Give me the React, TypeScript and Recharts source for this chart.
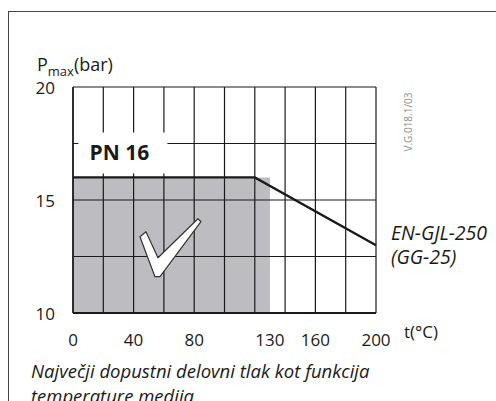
import {
  Area,
  ComposedChart,
  Line,
  ReferenceDot,
  ReferenceLine,
  XAxis,
  YAxis,
} from "recharts";

// temperature (°C) on x, max pressure (bar) on y
const tempGrid = [0, 20, 40, 60, 80, 100, 120, 140, 160, 180, 200];
const tempLabels = [0, 40, 80, 130, 160, 200];
const pressureGrid = [10, 12.5, 15, 17.5, 20];
const pressureLabels = [10, 15, 20];

// EN-GJL-250 (GG-25) limit curve
const limitLine = [
  { t: 0, p: 16 },
  { t: 120, p: 16 },
  { t: 200, p: 13 },
];
// shaded PN 16 working range
const safeZone = [
  { t: 0, p: 16 },
  { t: 130, p: 16 },
];

const FONT = "'Open Sans', 'DejaVu Sans', sans-serif";
const INK = "#1a1a1a";

function XTick({ x, y, payload }: any) {
  return (
    <text x={x} y={y + 25} textAnchor="middle" fontSize={17} fill={INK} fontFamily={FONT}>
      {payload.value}
    </text>
  );
}

function YTick({ x, y, payload }: any) {
  if (!pressureLabels.includes(payload.value)) return null;
  return (
    <text x={x - 10} y={y + 7} textAnchor="end" fontSize={17} fill={INK} fontFamily={FONT}>
      {payload.value}
    </text>
  );
}

// white tick mark drawn around its anchor point
function CheckMark({ cx, cy }: any) {
  const d = `M${cx - 30},${cy - 13} L${cx - 24},${cy - 18} L${cx - 12},${cy + 8} L${cx + 28},${cy - 31} L${cx + 31},${cy - 28} L${cx - 10},${cy + 27} L${cx - 15},${cy + 27} Z`;
  return <path d={d} fill="#fff" stroke="#333" strokeWidth={1.2} strokeLinejoin="round" />;
}

// white label plate that hides the grid behind "PN 16"
function PnBadge({ cx, cy }: any) {
  return (
    <g>
      <rect x={cx - 44} y={cy - 20} width={89} height={41} fill="#fff" />
      <text
        x={cx - 3}
        y={cy + 7}
        textAnchor="middle"
        fontSize={21}
        fontWeight={700}
        fill={INK}
        fontFamily={FONT}
      >
        PN 16
      </text>
    </g>
  );
}

export default function App() {
  return (
    <div
      style={{
        position: "absolute",
        left: 0,
        top: 0,
        width: 496,
        height: 401,
        overflow: "hidden",
        background: "#fff",
        fontFamily: FONT,
        color: INK,
      }}
    >
      <div
        style={{
          position: "absolute",
          left: 8,
          top: 11,
          width: 600,
          height: 600,
          borderLeft: "1.5px solid #444",
          borderTop: "1.5px solid #444",
        }}
      />
      <ComposedChart
        width={496}
        height={401}
        margin={{ top: 87, right: 120, bottom: 48, left: 23 }}
        style={{ position: "absolute", left: 0, top: 0 }}
      >
        <XAxis
          type="number"
          dataKey="t"
          domain={[0, 200]}
          ticks={tempLabels}
          tick={<XTick />}
          tickLine={false}
          axisLine={{ stroke: INK, strokeWidth: 2 }}
          height={40}
          interval={0}
        />
        <YAxis
          type="number"
          dataKey="p"
          domain={[10, 20]}
          ticks={pressureGrid}
          tick={<YTick />}
          tickLine={false}
          axisLine={{ stroke: INK, strokeWidth: 1.5 }}
          width={50}
          interval={0}
        />
        <Area
          data={safeZone}
          dataKey="p"
          type="linear"
          baseValue={10}
          fill="#bdbdc1"
          fillOpacity={1}
          stroke="none"
          isAnimationActive={false}
        />
        {tempGrid.map((t) => (
          <ReferenceLine key={"v" + t} x={t} stroke={INK} strokeWidth={1.2} />
        ))}
        {pressureGrid.map((p) => (
          <ReferenceLine key={"h" + p} y={p} stroke={INK} strokeWidth={1.2} />
        ))}
        <Line
          data={limitLine}
          dataKey="p"
          type="linear"
          stroke={INK}
          strokeWidth={2.4}
          dot={false}
          isAnimationActive={false}
        />
        <ReferenceDot x={32.6} y={17.1} shape={<PnBadge />} />
        <ReferenceDot x={64} y={12.8} shape={<CheckMark />} />
      </ComposedChart>

      <div style={{ position: "absolute", left: 37, top: 52, fontSize: 18, whiteSpace: "nowrap" }}>
        P<sub style={{ fontSize: 13 }}>max</sub>(bar)
      </div>
      <div style={{ position: "absolute", left: 404, top: 320, fontSize: 17 }}>t(°C)</div>
      <div style={{ position: "absolute", left: 391, top: 221, fontSize: 19.5, fontStyle: "italic", lineHeight: "24px" }}>
        EN-GJL-250
        <br />
        (GG-25)
      </div>
      <div
        style={{
          position: "absolute",
          left: 31,
          top: 358,
          fontSize: 18.5,
          fontStyle: "italic",
          lineHeight: "25px",
          whiteSpace: "nowrap",
        }}
      >
        Največji dopustni delovni tlak kot funkcija
        <br />
        temperature medija
      </div>
      <div
        style={{
          position: "absolute",
          left: 408,
          top: 122,
          fontSize: 10,
          color: "#8c8c8c",
          whiteSpace: "nowrap",
          transform: "translate(-50%, -50%) rotate(-90deg)",
        }}
      >
        V.G.018.1/03
      </div>
    </div>
  );
}
